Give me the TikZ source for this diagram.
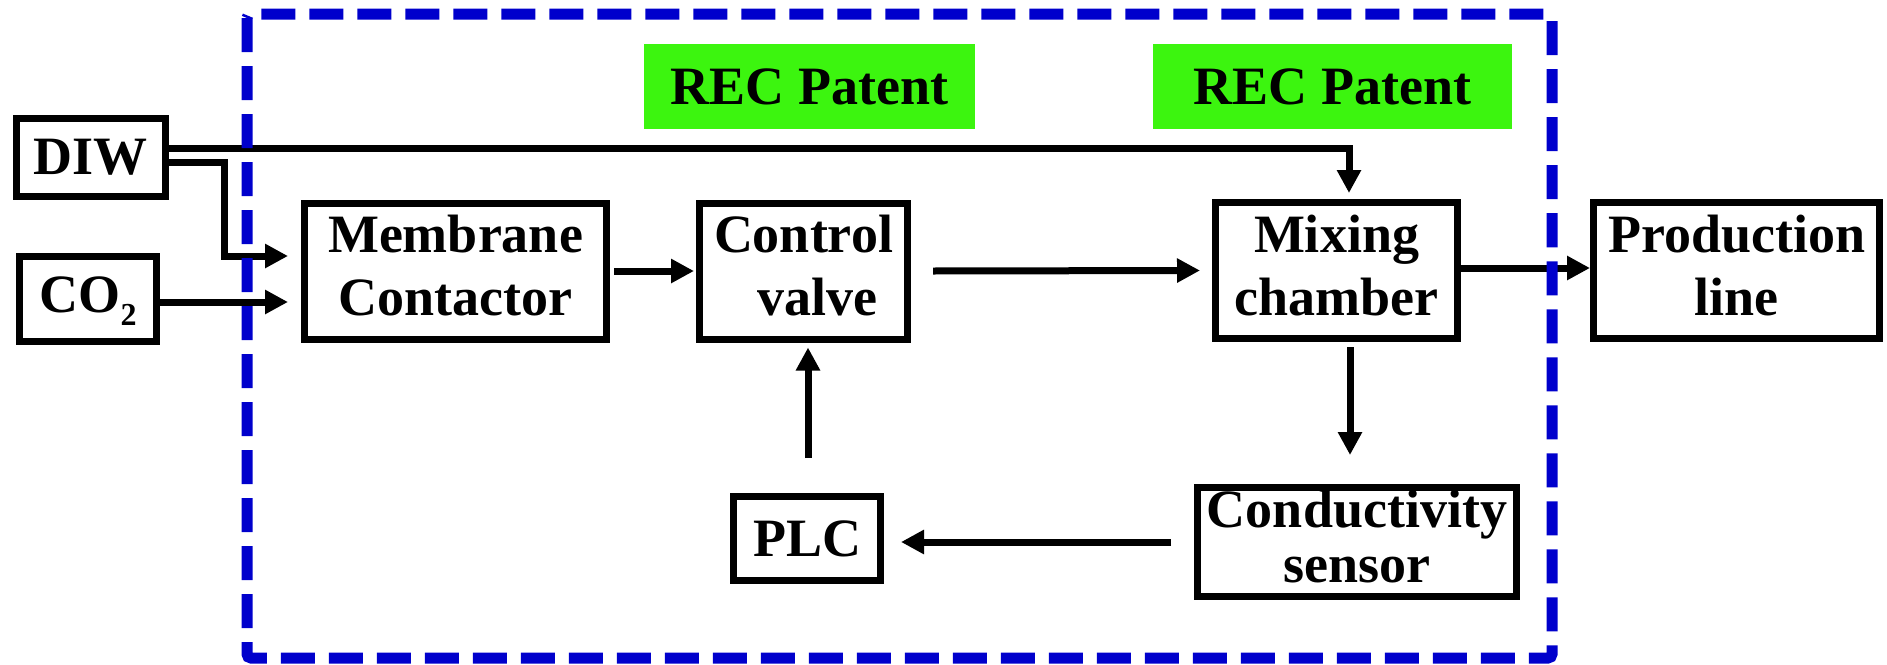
\documentclass[tikz,border=0pt]{standalone}
\usepackage{fontspec}
\setmainfont{Liberation Serif}
\usetikzlibrary{arrows.meta}
\definecolor{patgreen}{RGB}{60,245,15}
\definecolor{bndblue}{RGB}{0,0,204}
\newcommand{\st}{\rule[-14pt]{0pt}{54pt}}
\tikzset{
  box/.style={draw=black, line width=7pt, rectangle, align=center, inner sep=0pt,
    font=\fontsize{54}{63}\selectfont\bfseries},
  patent/.style={fill=patgreen, rectangle, inner sep=0pt, align=center,
    font=\fontsize{54}{63}\selectfont\bfseries},
  arr/.style={line width=7pt, -{Triangle[length=23pt,width=23pt]}},
  boundary/.style={draw=bndblue, line width=11pt, dash pattern=on 34pt off 14pt}
}
\begin{document}
\begin{tikzpicture}[x=1pt,y=-1pt]
\useasboundingbox (0,0) rectangle (1887,664);

% boxes
\node[box, minimum width=149pt, minimum height=78pt] (diw) at (91,157.5) {DIW};
\node[box, minimum width=137pt, minimum height=85pt] (co2) at (88,299) {\st CO\raisebox{-13pt}{\fontsize{32}{32}\selectfont 2}};
\node[box, minimum width=302pt, minimum height=136pt] (mem) at (455.5,271) {\st Membrane\\\st Contactor};
\node[box, minimum width=208pt, minimum height=136pt] (ctrl) at (803.5,271) {\st Control\\\st\hspace{0.5em}valve};
\node[box, minimum width=242pt, minimum height=136pt] (mix) at (1336.5,270.5) {\st Mixing\\\st chamber};
\node[box, minimum width=286pt, minimum height=136pt] (prod) at (1736.5,270.5) {\st Production\\\st line};
\node[box, minimum width=147pt, minimum height=84pt] (plc) at (807,538.5) {PLC};
\node[box, minimum width=319pt, minimum height=103pt, font=\fontsize{54}{45}\selectfont\bfseries] (cond) at (1357,542) {\st Conductivity\\\st sensor};

\node[patent, minimum width=331pt, minimum height=85pt] (pat1) at (809.5,86.5) {REC Patent};
\node[patent, minimum width=359pt, minimum height=85pt] (pat2) at (1332.5,86.5) {REC Patent};

% connectors
\draw[arr] ([yshift=9.5pt]diw.east) -| ([xshift=12.5pt,yshift=6pt]mix.north);
\draw[arr] ([yshift=-4.5pt]diw.east) -| ([xshift=-77pt,yshift=15pt]mem.west) -- ([xshift=-13pt,yshift=15pt]mem.west);
\draw[arr] ([yshift=-3pt]co2.east) -- ([xshift=-13pt,yshift=-31pt]mem.west);
\draw[arr] ([xshift=4pt]mem.east) -- ([xshift=-2pt]ctrl.west);
\draw[arr] ([xshift=22pt]ctrl.east) -- ([xshift=-12pt]mix.west);
\draw[arr] ([yshift=2.5pt]mix.east) -- ([yshift=2.5pt]prod.west);
\draw[arr] ([xshift=13.5pt,yshift=-5pt]mix.south) -- ([xshift=-7pt,yshift=29pt]cond.north);
\draw[arr] ([xshift=-23pt]cond.west) -- ([xshift=17pt,yshift=-3.5pt]plc.east);
\draw[arr] ([xshift=1pt,yshift=35pt]plc.north) -- ([xshift=4.5pt,yshift=-5pt]ctrl.south);

% dashed boundary
\draw[boundary, rounded corners=4pt] (247,14) rectangle (1552,658);
\end{tikzpicture}
\end{document}
